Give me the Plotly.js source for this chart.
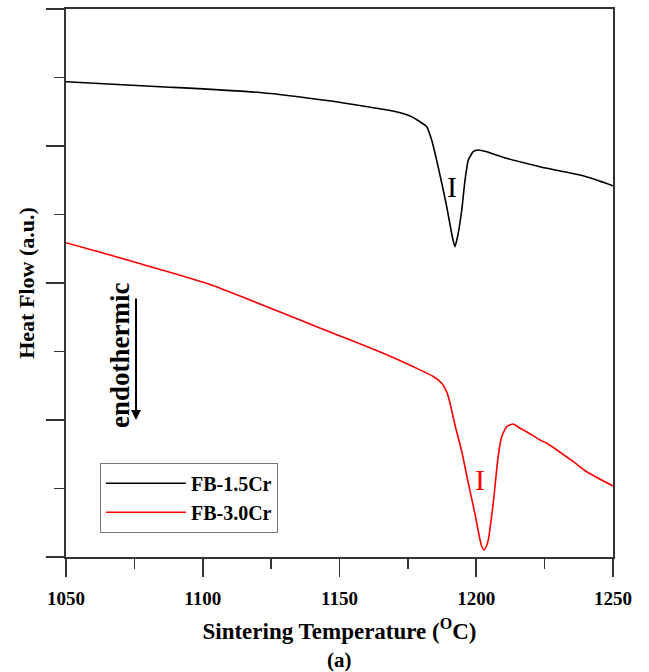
<!DOCTYPE html>
<html>
<head>
<meta charset="utf-8">
<script src="https://cdn.plot.ly/plotly-3.0.1.min.js"></script>
<style>html,body{margin:0;padding:0;background:#fff;}#chart{width:649px;height:672px;}</style>
</head>
<body>
<div id="chart"></div>
<script>
// FB-1.5Cr (black) – temperature (°C) vs heat flow (a.u.)
var tempA = [1050.0, 1084.4, 1120.9, 1145.4, 1169.5, 1175.8, 1179.4, 1181.9, 1183.7, 1185.5, 1187.4, 1189.2, 1191.0, 1191.6, 1192.2, 1192.8, 1193.4, 1194.7, 1195.9, 1197.1, 1198.9, 1200.7, 1203.8, 1211.1, 1223.3, 1225.9, 1237.9, 1244.0, 1250.0];
var flowA = [6.939, 6.866, 6.781, 6.664, 6.511, 6.438, 6.355, 6.282, 6.088, 5.796, 5.455, 5.114, 4.726, 4.613, 4.530, 4.613, 4.726, 5.066, 5.504, 5.796, 5.917, 5.942, 5.917, 5.820, 5.698, 5.674, 5.577, 5.504, 5.420];
// FB-3.0Cr (red)
var tempB = [1050.0, 1066.1, 1084.4, 1102.7, 1117.3, 1135.6, 1147.7, 1166.0, 1178.2, 1184.3, 1187.4, 1189.2, 1190.4, 1192.2, 1194.7, 1197.1, 1199.5, 1201.4, 1202.1, 1202.8, 1203.6, 1204.4, 1206.2, 1208.0, 1209.3, 1211.1, 1213.5, 1216.0, 1218.4, 1223.3, 1225.8, 1235.5, 1240.4, 1250.0];
var flowB = [4.588, 4.409, 4.197, 3.978, 3.752, 3.460, 3.266, 2.974, 2.755, 2.635, 2.536, 2.410, 2.250, 1.930, 1.540, 1.076, 0.638, 0.248, 0.146, 0.102, 0.146, 0.248, 0.784, 1.464, 1.756, 1.902, 1.942, 1.879, 1.829, 1.708, 1.660, 1.391, 1.245, 1.036];
var seriesNames = ["FB-1.5Cr", "FB-3.0Cr"];
var xTicks = [1050, 1100, 1150, 1200, 1250];
// peak labels: [x, y]
var peakA = [1191.2, 5.406];
var peakB = [1201.4, 1.134];
// endothermic arrow: tail and tip
var arrowX = 1075.6, arrowTail = 3.796, arrowTip = 2.0;

var serif = "Liberation Serif, Times New Roman, serif";
var traces = [
  {x: tempA, y: flowA, name: seriesNames[0], mode: "lines", line: {color: "#000000", width: 1.6, shape: "spline", smoothing: 0.5}},
  {x: tempB, y: flowB, name: seriesNames[1], mode: "lines", line: {color: "#ff0000", width: 1.6, shape: "spline", smoothing: 0.5}}
];
var axisCommon = {
  showline: true, linecolor: "#333", linewidth: 1.6, mirror: true,
  showgrid: false, zeroline: false, ticks: "outside", tickwidth: 1.6, tickcolor: "#333"
};
var layout = {
  width: 649, height: 672,
  margin: {l: 66, r: 36, t: 9, b: 115},
  paper_bgcolor: "#fff", plot_bgcolor: "#fff",
  showlegend: true,
  legend: {x: 0.062, y: 0.172, xanchor: "left", yanchor: "top", bgcolor: "#fff",
    bordercolor: "#777", borderwidth: 1, itemwidth: 80,
    font: {family: serif, size: 20, color: "#000", weight: "bold"}},
  xaxis: Object.assign({}, axisCommon, {
    range: [1050, 1250], tickvals: xTicks, ticklen: 18,
    minor: {dtick: 25, ticks: "outside", ticklen: 10, tickwidth: 1.6, tickcolor: "#333"},
    tickfont: {family: serif, size: 19, color: "#000", weight: "bold"},
    ticklabelstandoff: 6,
    title: {text: "Sintering Temperature (<sup>O</sup>C)", standoff: 14,
      font: {family: serif, size: 23, color: "#000", weight: "bold"}}
  }),
  yaxis: Object.assign({}, axisCommon, {
    range: [0, 8], dtick: 2, tick0: 0, ticklen: 18, showticklabels: false,
    minor: {dtick: 1, ticks: "outside", ticklen: 10, tickwidth: 1.6, tickcolor: "#333"},
    title: {text: "Heat Flow (a.u.)", standoff: 6,
      font: {family: serif, size: 22, color: "#000", weight: "bold"}}
  }),
  annotations: [
    {x: peakA[0], y: peakA[1], xref: "x", yref: "y", text: "I", showarrow: false,
      font: {family: serif, size: 30, color: "#000"}},
    {x: peakB[0], y: peakB[1], xref: "x", yref: "y", text: "I", showarrow: false,
      font: {family: serif, size: 30, color: "#ff0000"}},
    {x: 0.0987, y: 0.3686, xref: "paper", yref: "paper", xanchor: "center", yanchor: "middle",
      text: "endothermic", textangle: -90,
      showarrow: false, font: {family: serif, size: 27, color: "#000", weight: "bold"}},
    {x: arrowX, y: arrowTip, ax: arrowX, ay: arrowTail, xref: "x", yref: "y", axref: "x", ayref: "y",
      text: "", showarrow: true, arrowhead: 2, arrowsize: 1, arrowwidth: 2, arrowcolor: "#000"},
    {x: 0.5, y: -0.188, xref: "paper", yref: "paper", xanchor: "center", yanchor: "middle",
      text: "(a)", showarrow: false,
      font: {family: serif, size: 21, color: "#000", weight: "bold"}}
  ]
};
Plotly.newPlot("chart", traces, layout, {displayModeBar: false, staticPlot: true});
</script>
</body>
</html>
